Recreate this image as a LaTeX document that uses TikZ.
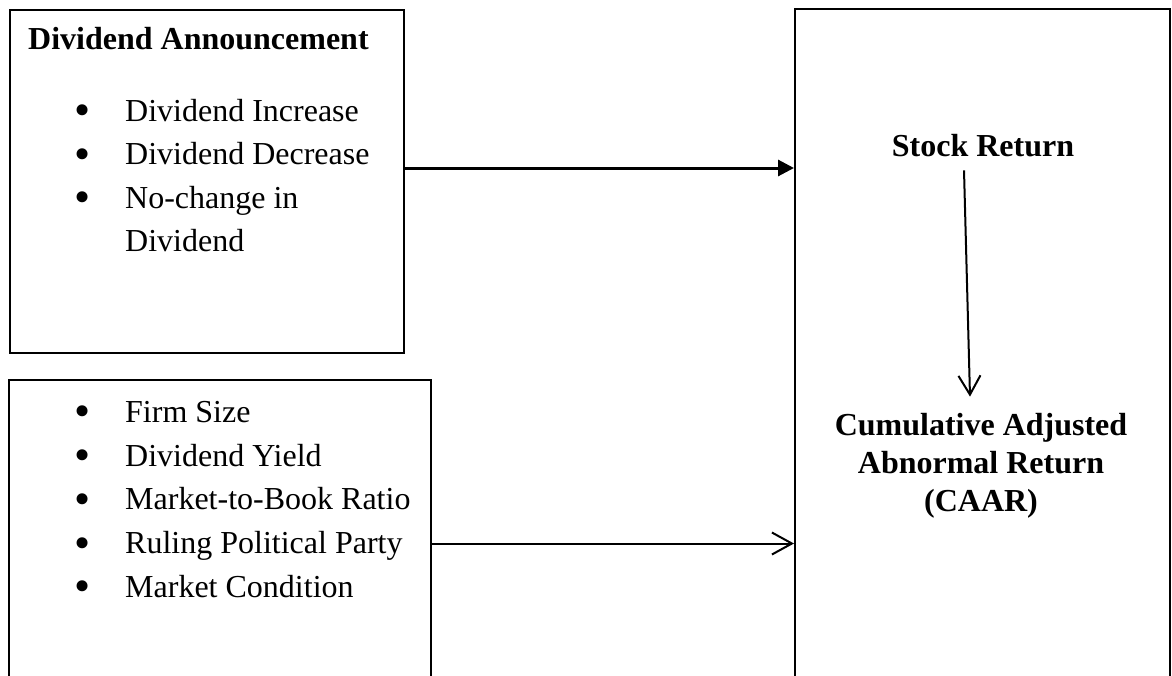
\documentclass[tikz,border=0pt]{standalone}
\usepackage{fontspec}
\setmainfont{Liberation Serif}
\usetikzlibrary{arrows.meta}
\begin{document}
\begin{tikzpicture}[x=1pt,y=-1pt,
  box/.style={draw, line width=2pt, rectangle, inner sep=0pt},
  txt/.style={inner sep=0pt, font=\fontsize{32}{43.5}\selectfont, align=left},
  ttl/.style={inner sep=0pt, font=\fontsize{32}{38.3}\selectfont\bfseries, align=center},
  bul/.style={inner sep=0pt, anchor=base, font=\fontsize{46}{46}\selectfont},
  thickarrow/.style={line width=3pt, -{Triangle[length=16pt,width=16pt]}},
  openarrow/.style={line width=2pt, -{Straight Barb[length=19pt,width=22pt]}}]
\useasboundingbox (0,0) rectangle (1172,675);
\clip (0,0) rectangle (1172,675);
% boxes
\node[box, minimum width=394pt, minimum height=343.5pt] (b1) at (206.5,181.25) {};
\node[box, minimum width=422pt, minimum height=327pt] (b2) at (220,543.5) {};
\node[box, minimum width=375pt, minimum height=711pt] (b3) at (982.5,364.5) {};
% box 1 text
\node[ttl, anchor=base west] (t1) at (28,49) {Dividend Announcement};
\node[bul] (p1) at (83,125.5) {•};
\node[bul] (p2) at (83,169) {•};
\node[bul] (p3) at (83,212.5) {•};
\node[txt, anchor=base west] (i1) at (125,121) {Dividend Increase};
\node[txt, anchor=base west] (i2) at (125,164.5) {Dividend Decrease};
\node[txt, anchor=base west] (i3) at (125,251.5) {No-change in\\Dividend};
% box 2 text
\node[bul] (q1) at (83,426.5) {•};
\node[bul] (q2) at (83,470.5) {•};
\node[bul] (q3) at (83,514) {•};
\node[bul] (q4) at (83,558) {•};
\node[bul] (q5) at (83,601.5) {•};
\node[txt, anchor=base west] (j1) at (125,422) {Firm Size};
\node[txt, anchor=base west] (j2) at (125,466) {Dividend Yield};
\node[txt, anchor=base west] (j3) at (125,509.5) {Market-to-Book Ratio};
\node[txt, anchor=base west] (j4) at (125,553.5) {Ruling Political Party};
\node[txt, anchor=base west] (j5) at (125,597) {Market Condition};
% box 3 text
\node[ttl, anchor=base] (sr) at (983,156.7) {Stock Return};
\node[ttl, anchor=base] (caar) at (981,511.6) {Cumulative Adjusted\\Abnormal Return\\(CAAR)};
% connectors
\draw[thickarrow] ([yshift=13.25pt]b1.east) -- ([yshift=13.25pt]b1.east -| b3.west);
\draw[openarrow, -{Straight Barb[length=20pt,width=22pt]}] (b2.east) -- (b2.east -| b3.west);
\draw[openarrow] ([xshift=-19pt,yshift=-13pt]sr.south) -- ([xshift=-11pt,yshift=16pt]caar.north);
\end{tikzpicture}
\end{document}
